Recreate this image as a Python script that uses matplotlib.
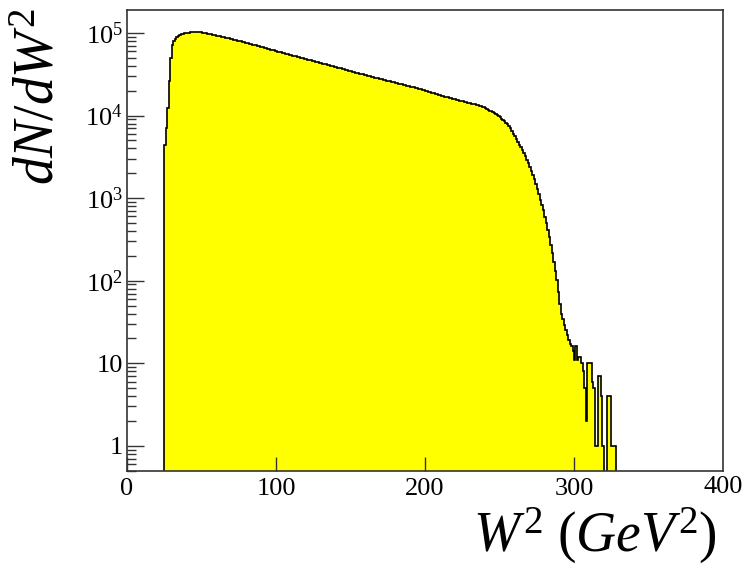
#!/usr/bin/env python3

import numpy as np
import matplotlib
matplotlib.use("Agg")
import matplotlib.pyplot as plt

plt.rcParams['font.family'] = ['Liberation Serif', 'DejaVu Serif']
plt.rcParams['mathtext.fontset'] = 'custom'
plt.rcParams['mathtext.rm'] = 'Liberation Serif'
plt.rcParams['mathtext.it'] = 'Liberation Serif:italic'

# histogram of W^2, 1 GeV^2 bins starting at 25
first_edge = 25
bin_width = 1

# threshold rise, bins 25..45
rise = [4400, 7100, 12300, 26300, 50100, 70800, 79400, 85100, 89100, 92300,
        94400, 96600, 97700, 98900, 100000, 100700, 101400, 101900, 102300,
        102600, 102800]

# peak and slow fall, bins 46..150
fall = [102800, 102600, 102300, 101900, 101400, 100700, 100000, 99300, 98600,
        97700, 96800, 95900, 95100, 94200, 93300,
        92400, 91400, 90500, 89500, 88600, 87700, 86800, 85900, 85000, 84100,
        83300, 82400, 81600, 80700, 79900, 79100,
        78200, 77300, 76500, 75600, 74800, 73900, 73100, 72300, 71500, 70700,
        69900, 69100, 68300, 67600, 66800, 66100, 65300, 64600, 63900, 63100,
        62400, 61700, 61000, 60400, 59700, 59000, 58400, 57700, 57100, 56400,
        55800, 55200, 54500, 53900, 53300, 52700, 52100, 51600, 51000, 50400,
        49900, 49300, 48800, 48200, 47700, 47100, 46600, 46100, 45600, 45100,
        44600, 44100, 43600, 43100, 42600, 42100, 41700, 41200, 40700, 40300,
        39800, 39400, 38900, 38500, 38000, 37600, 37200, 36800, 36300, 35900,
        35500, 35100, 34700, 34300]

# bins 151..246
slope = [33900, 33600, 33200, 32900, 32500, 32200, 31800, 31500, 31100, 30800,
         30500, 30100, 29800, 29500, 29200, 28900, 28600, 28300, 28000, 27700,
         27400, 27100, 26800, 26600, 26300, 26000, 25700, 25400, 25200, 24900,
         24600, 24400, 24100, 23900, 23600, 23400, 23100, 22900, 22600, 22400,
         22100, 21900, 21700, 21500,
         21200, 21000, 20700, 20500, 20200, 20000, 19700, 19500, 19300, 19000,
         18800, 18600, 18300, 18100, 17900, 17700, 17400, 17200, 17000, 16800,
         16600, 16400, 16200,
         16000, 15900, 15700, 15500, 15400, 15200, 15000, 14900, 14700, 14600,
         14400, 14300, 14100, 14000, 13800, 13700, 13500, 13400,
         13200, 13000, 12800, 12600, 12300, 12100, 11800, 11500, 11300, 11000,
         10700]

# kinematic edge, bins 247..299
edge = [10400, 10100, 9790, 9480, 9160, 8830, 8490, 8150, 7800, 7410, 7020,
        6520, 6050, 5600, 5160, 4750, 4440, 4140, 3850, 3560, 3230, 2920, 2630,
        2370, 2130, 1910, 1720, 1490, 1280, 1110, 955, 826, 713, 596, 495, 409,
        335, 270, 214, 170, 132, 102, 74, 52, 40, 34, 29, 25, 22, 19, 17, 16,
        14]

# low statistics tail, bins 300..328
tail = [11, 16, 11, 12, 12, 10, 8, 5, 2, 10, 10, 10, 6, 5, 1, 1, 7, 7, 4, 1,
        0, 0, 4, 4, 4, 1, 1, 1, 0]

counts = np.array(rise + fall + slope + edge + tail, dtype=float)
edges = first_edge + bin_width * np.arange(len(counts) + 1)

# empty bins go below the axis on a log scale
shown = np.where(counts > 0, counts, 1e-3)

fig = plt.figure(figsize=(7.49, 5.68), dpi=100)
ax = fig.add_axes([127 / 749, 1 - 470.7 / 568, 596 / 749, 460.7 / 568])

ax.stairs(shown, edges, baseline=1e-3, fill=True, color='#ffff00', lw=0)
ax.stairs(shown, edges, baseline=1e-3, fill=False, color='black', lw=1.2)

ax.set_yscale('log')
ax.set_xlim(0, 400)
ax.set_ylim(0.5, 1.9e5)

ax.set_xticks([0, 100, 200, 300])
ax.set_xticklabels(['0', '100', '200', '300'])
ax.set_yticks([1, 10, 100, 1e3, 1e4, 1e5])
ax.set_yticklabels(['1', '10', r'$10^2$', r'$10^3$', r'$10^4$', r'$10^5$'])
ax.yaxis.set_minor_locator(matplotlib.ticker.LogLocator(base=10, subs=np.arange(2, 10)))
ax.yaxis.set_minor_formatter(matplotlib.ticker.NullFormatter())

ax.tick_params(axis='y', which='major', direction='in', length=12.5, width=1.0,
               color='#333333', labelsize=19, pad=3)
ax.tick_params(axis='y', which='minor', direction='in', length=6.5, width=1.0,
               color='#333333')
ax.tick_params(axis='x', which='major', direction='in', length=10, width=1.0,
               color='#333333', labelsize=19, pad=5)
ax.tick_params(axis='x', which='minor', bottom=False)

for s in ax.spines.values():
    s.set_linewidth(1.2)
    s.set_color('#333333')

# 400 label sits at the right end without a tick mark
ax.text(400, -0.012, '400', transform=ax.get_xaxis_transform(), ha='center',
        va='top', fontsize=19)

fig.text(40 / 749, 1 - 8 / 568, r'$dN/dW^2$', rotation=90, ha='center', va='top',
         fontsize=40)
fig.text(717 / 749, 1 - 552 / 568, r'$W^2\ (GeV^2)$', ha='right', va='baseline',
         fontsize=40)

fig.savefig('out.png', dpi=100)
